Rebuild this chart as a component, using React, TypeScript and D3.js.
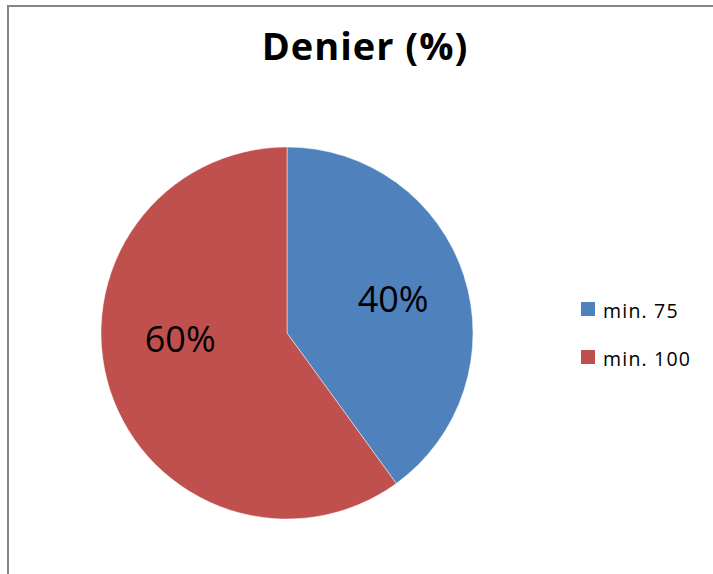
import React from "react";
import * as d3 from "d3";

const categories = ["min. 75", "min. 100"];
const values = [40, 60];
const colors = ["#4F81BD", "#C0504D"];
const chartTitle = "Denier (%)";

const W = 713;
const H = 574;
const cx = 287;
const cy = 333;
const R = 186;
const FONT = "'Open Sans', Lato, sans-serif";

export default function App() {
  const pie = d3
    .pie<number>()
    .sort(null)
    .value((d) => d);
  const arcs = pie(values);
  const arc = d3.arc<d3.PieArcDatum<number>>().innerRadius(0).outerRadius(R);

  // Excel "best fit" pushes the big slice's label toward the horizontal
  const labelArc = (d: d3.PieArcDatum<number>, i: number) => {
    const mid = (d.startAngle + d.endAngle) / 2;
    const a = i === 0 ? mid : mid + 0.26;
    const r = i === 0 ? 0.6 * R : 0.575 * R;
    return [Math.sin(a) * r, -Math.cos(a) * r];
  };

  const legendY = d3
    .scalePoint<string>()
    .domain(categories)
    .range([309, 357]);

  return (
    <svg
      width={W}
      height={H}
      style={{ position: "absolute", left: 0, top: 0, background: "#fff" }}
    >
      <rect x={8} y={6} width={760} height={620} fill="#fff" stroke="#868686" strokeWidth={2} />
      <text
        x={365}
        y={60}
        textAnchor="middle"
        fontFamily={FONT}
        fontWeight="bold"
        fontSize={38}
        letterSpacing={1}
        fill="#000"
      >
        {chartTitle}
      </text>
      <g transform={`translate(${cx},${cy})`}>
        {arcs.map((d, i) => (
          <path key={i} d={arc(d) || ""} fill={colors[i]} stroke="#fff" strokeOpacity={0.6} strokeWidth={0.8} />
        ))}
        {arcs.map((d, i) => {
          const [x, y] = labelArc(d, i);
          return (
            <text
              key={i}
              x={x}
              y={y}
              textAnchor="middle"
              dominantBaseline="central"
              fontFamily={FONT}
              fontSize={36}
              fill="#000"
            >
              {`${d.data}%`}
            </text>
          );
        })}
      </g>
      {categories.map((c, i) => (
        <g key={c} transform={`translate(581,${legendY(c)})`}>
          <rect x={0} y={-7} width={14} height={14} fill={colors[i]} />
          <text
            x={22}
            y={1}
            dominantBaseline="central"
            fontFamily={FONT}
            fontSize={19.5}
            letterSpacing={1.2}
            fill="#000"
          >
            {c}
          </text>
        </g>
      ))}
    </svg>
  );
}
